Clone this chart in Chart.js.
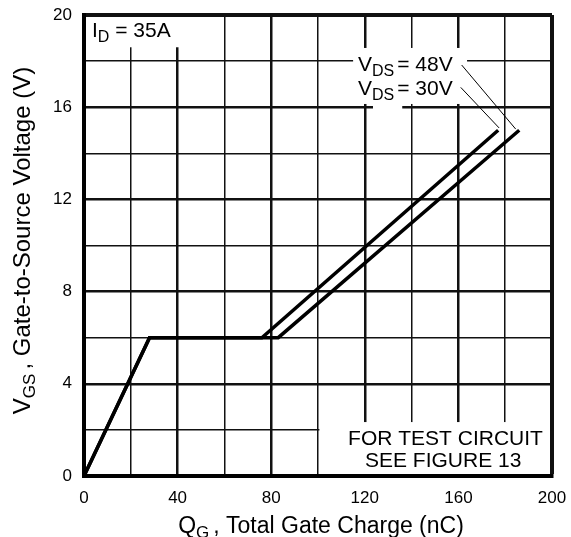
<!DOCTYPE html>
<html><head><meta charset="utf-8">
<script src="https://cdn.jsdelivr.net/npm/chart.js@4.4.0/dist/chart.umd.min.js"></script>
<style>html,body{margin:0;padding:0;background:#fff;} #wrap{width:571px;height:537px;position:relative;}</style>
</head><body><div id="wrap"><canvas id="c"></canvas></div>
<script>
// ---- data ----
const qg30 = [0, 28, 76, 177];   // Q_G (nC), V_DS = 30V
const vgs30 = [0, 6, 6, 15];     // V_GS (V)
const qg48 = [0, 28, 83, 186];   // Q_G (nC), V_DS = 48V
const vgs48 = [0, 6, 6, 15];     // V_GS (V)
const xTickLabels = ['0', '40', '80', '120', '160', '200'];
const yTickLabels = ['0', '4', '8', '12', '16', '20'];
const seriesNames = ['VDS = 30V', 'VDS = 48V'];

const FONT = '"Liberation Sans", Arial, Helvetica, sans-serif';

function pts(xs, ys) { return xs.map((v, i) => ({x: v, y: ys[i]})); }

function partsWidth(ctx, parts, size, subSize, gap) {
  let w = 0;
  parts.forEach(p => {
    ctx.font = (p.sub ? subSize : size) + 'px ' + FONT;
    w += ctx.measureText(p.t).width + (p.sub ? gap : 0);
  });
  return w;
}
function drawParts(ctx, x, y, parts, size, subSize, subOff, gap) {
  ctx.textAlign = 'left';
  ctx.textBaseline = 'alphabetic';
  parts.forEach(p => {
    ctx.font = (p.sub ? subSize : size) + 'px ' + FONT;
    ctx.fillText(p.t, x, y + (p.sub ? subOff : 0));
    x += ctx.measureText(p.t).width + (p.sub ? gap : 0);
  });
}

const annot = {
  id: 'annot',
  afterDatasetsDraw(chart) {
    const {ctx, chartArea: a, scales: {x, y}} = chart;
    const X = v => x.getPixelForValue(v), Y = v => y.getPixelForValue(v);
    ctx.save();
    ctx.beginPath();
    ctx.rect(a.left + 2, a.top + 2, a.right - a.left - 4, a.bottom - a.top - 4);
    ctx.clip();
    ctx.fillStyle = '#fff';
    const boxes = [
      [0, 43, 18.6, 20],
      [115, 163.7, 16.14, 18.57],
      [123.5, 136, 15.85, 16.2],
      [100.6, 200, 0, 2.34]
    ];
    boxes.forEach(b => {
      ctx.fillRect(X(b[0]), Y(b[3]), X(b[1]) - X(b[0]), Y(b[2]) - Y(b[3]));
    });
    ctx.restore();

    ctx.save();
    ctx.fillStyle = '#000';
    drawParts(ctx, X(3.4), Y(19.05), [{t: 'I'}, {t: 'D', sub: true}, {t: ' = 35A'}], 21, 16, 5, 0);
    drawParts(ctx, X(117.1), Y(17.57), [{t: 'V'}, {t: 'DS', sub: true}, {t: '= 48V'}], 21, 16, 5, 3);
    drawParts(ctx, X(117.1), Y(16.53), [{t: 'V'}, {t: 'DS', sub: true}, {t: '= 30V'}], 21, 16, 5, 3);
    ctx.strokeStyle = '#000';
    ctx.lineWidth = 1;
    ctx.beginPath();
    ctx.moveTo(X(161.4), Y(17.83)); ctx.lineTo(X(qg48[3] - 1.5), Y(vgs48[3] + 0.05));
    ctx.moveTo(X(161.0), Y(16.86)); ctx.lineTo(X(qg30[3] + 0.4), Y(vgs30[3] + 0.1));
    ctx.stroke();
    ctx.font = '21px ' + FONT;
    ctx.textAlign = 'center';
    ctx.textBaseline = 'alphabetic';
    ctx.fillText('FOR TEST CIRCUIT', X(154.5), Y(1.34));
    ctx.fillText('SEE FIGURE 13', X(153.5), Y(0.39));

    const xParts = [{t: 'Q'}, {t: 'G', sub: true}, {t: ', Total Gate Charge (nC)'}];
    const xw = partsWidth(ctx, xParts, 23, 17, 4);
    drawParts(ctx, (a.left + a.right) / 2 + 3 - xw / 2, 533, xParts, 23, 17, 5, 4);

    const yParts = [{t: 'V'}, {t: 'GS', sub: true}, {t: ', Gate-to-Source Voltage (V)'}];
    const yw = partsWidth(ctx, yParts, 24, 17, 4);
    ctx.translate(30, (a.top + a.bottom) / 2 - 5);
    ctx.rotate(-Math.PI / 2);
    drawParts(ctx, -yw / 2, 0, yParts, 24, 17, 5, 4);
    ctx.restore();
  }
};

const gridW = (major, edge) => c => {
  const v = c.tick ? c.tick.value : 0;
  if (v === edge) return 4;
  return (v % major === 0) ? 2.5 : 1.5;
};

new Chart(document.getElementById('c'), {
  type: 'scatter',
  data: {
    datasets: [
      {label: seriesNames[0], data: pts(qg30, vgs30), showLine: true, borderColor: '#000', backgroundColor: '#000', borderWidth: 3.5, pointRadius: 0, tension: 0, borderJoinStyle: 'miter'},
      {label: seriesNames[1], data: pts(qg48, vgs48), showLine: true, borderColor: '#000', backgroundColor: '#000', borderWidth: 3.5, pointRadius: 0, tension: 0, borderJoinStyle: 'miter'}
    ]
  },
  options: {
    responsive: true,
    maintainAspectRatio: false,
    animation: false,
    events: [],
    layout: {padding: {left: 0, right: 19, top: 15, bottom: 0}},
    plugins: {legend: {display: false}, tooltip: {enabled: false}, title: {display: false}},
    scales: {
      x: {
        type: 'linear', min: 0, max: 200,
        afterFit: s => { s.height = 61; s.paddingLeft = 0; s.paddingRight = 0; },
        ticks: {
          stepSize: 20, color: '#000', font: {family: FONT, size: 17}, padding: 12, maxRotation: 0, autoSkip: false,
          callback: v => xTickLabels.includes(String(v)) ? String(v) : ''
        },
        grid: {color: '#111', lineWidth: gridW(40, 200), drawTicks: false},
        border: {display: true, color: '#000', width: 4}
      },
      y: {
        type: 'linear', min: 0, max: 20,
        afterFit: s => { s.width = 84; s.paddingTop = 0; s.paddingBottom = 0; },
        ticks: {
          stepSize: 2, color: '#000', font: {family: FONT, size: 17}, padding: 12, autoSkip: false,
          callback: v => yTickLabels.includes(String(v)) ? String(v) : ''
        },
        grid: {color: '#111', lineWidth: gridW(4, 20), drawTicks: false},
        border: {display: true, color: '#000', width: 4}
      }
    }
  },
  plugins: [annot]
});
</script>
</body></html>
